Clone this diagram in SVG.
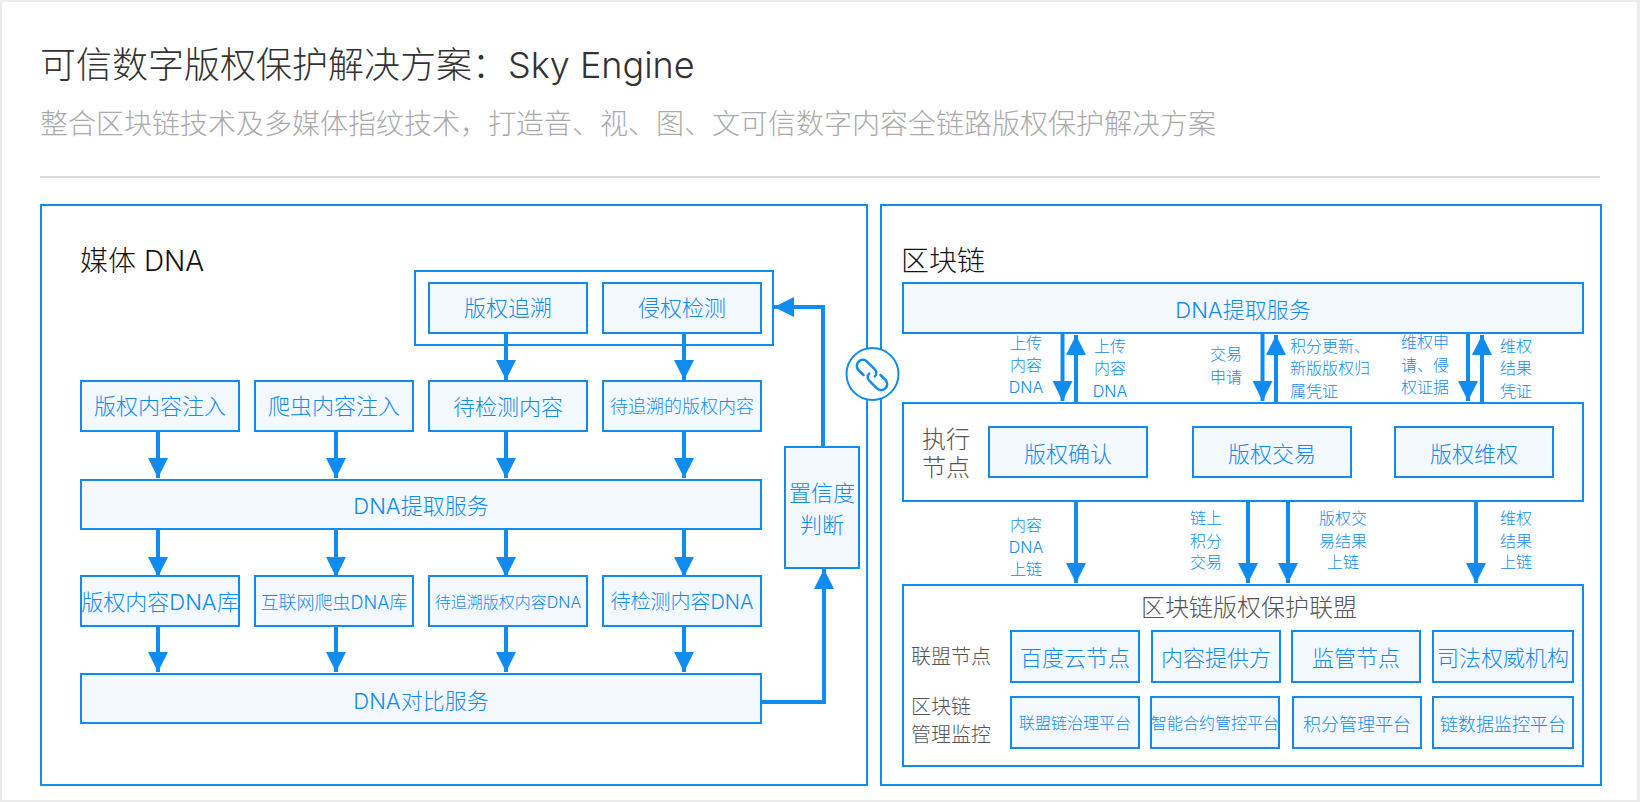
<svg xmlns="http://www.w3.org/2000/svg" width="1640" height="802" viewBox="0 0 1640 802">
<style>
text{font-family:"Inter","Noto Sans CJK SC",sans-serif;font-weight:300;dominant-baseline:central}
.m{text-anchor:middle}
.bl{fill:#108cf0}
.gr{fill:#555}
.f22{font-size:22px}.f20{font-size:20px}.f18{font-size:18px}.f16{font-size:16px}.f24{font-size:24px}
.box{fill:#f4f8ff;stroke:#108cf0;stroke-width:2}
.frame{fill:#fff;stroke:#108cf0;stroke-width:2}
.conn line,.conn path{fill:none;stroke:#108cf0;stroke-width:4}
</style>
<defs>
<marker id="a" viewBox="0 0 5 5" refX="5" refY="2.5" markerWidth="5" markerHeight="5" orient="auto"><path d="M0 0L5 2.5L0 5z" style="fill:#108cf0;stroke:none"/></marker>
</defs>
<rect width="1640" height="802" fill="#ececec"/>
<rect x="2" y="2" width="1635" height="798" fill="#fff"/>
<g id="header">
<text x="40" y="65" font-size="36" fill="#333">可信数字版权保护解决方案：Sky Engine</text>
<text x="40" y="124" font-size="28" fill="#aaa">整合区块链技术及多媒体指纹技术，打造音、视、图、文可信数字内容全链路版权保护解决方案</text>
<rect x="40" y="176" width="1560" height="2" fill="#ddd"/>
</g>
<g id="panel-media"><rect class="frame" x="41" y="205" width="826" height="580"/><text x="80" y="261" font-size="28" fill="#111">媒体 DNA</text></g>
<g id="panel-chain"><rect class="frame" x="881" y="205" width="720" height="580"/><text x="901" y="261" font-size="28" fill="#111">区块链</text></g>
<g id="source-group"><rect class="frame" x="415" y="271" width="358" height="74"/></g>
<g id="n1"><rect class="box" x="429" y="283" width="158" height="50"/><text class="m bl f22" x="508" y="308">版权追溯</text></g>
<g id="n2"><rect class="box" x="603" y="283" width="158" height="50"/><text class="m bl f22" x="682" y="308">侵权检测</text></g>
<g id="n3"><rect class="box" x="81" y="381" width="158" height="50"/><text class="m bl f22" x="160" y="406">版权内容注入</text></g>
<g id="n4"><rect class="box" x="255" y="381" width="158" height="50"/><text class="m bl f22" x="334" y="406">爬虫内容注入</text></g>
<g id="n5"><rect class="box" x="429" y="381" width="158" height="50"/><text class="m bl f22" x="508" y="407">待检测内容</text></g>
<g id="n6"><rect class="box" x="603" y="381" width="158" height="50"/><text class="m bl f18" x="682" y="406">待追溯的版权内容</text></g>
<g id="n7"><rect class="box" x="81" y="480" width="680" height="49"/><text class="m bl f22" x="421" y="506">DNA提取服务</text></g>
<g id="n8"><rect class="box" x="81" y="576" width="158" height="50"/><text class="m bl f22" x="160" y="602">版权内容DNA库</text></g>
<g id="n9"><rect class="box" x="255" y="576" width="158" height="50"/><text class="m bl f18" x="334" y="602">互联网爬虫DNA库</text></g>
<g id="n10"><rect class="box" x="429" y="576" width="158" height="50"/><text class="m bl f16" x="508" y="602">待追溯版权内容DNA</text></g>
<g id="n11"><rect class="box" x="603" y="576" width="158" height="50"/><text class="m bl f20" x="682" y="602">待检测内容DNA</text></g>
<g id="n12"><rect class="box" x="81" y="674" width="680" height="49"/><text class="m bl f22" x="421" y="701">DNA对比服务</text></g>
<g id="n13"><rect class="box" x="785" y="447" width="74" height="121"/><text class="m bl f22" x="822" y="493">置信度</text><text class="m bl f22" x="822" y="525">判断</text></g>
<g id="n14"><rect class="box" x="903" y="283" width="680" height="50"/><text class="m bl f22" x="1243" y="310">DNA提取服务</text></g>
<g id="exec"><rect class="frame" x="903" y="403" width="680" height="98"/><text class="gr f24" x="922" y="439">执行</text><text class="gr f24" x="922" y="467">节点</text></g>
<g id="n15"><rect class="box" x="989" y="427" width="158" height="50"/><text class="m bl f22" x="1068" y="454">版权确认</text></g>
<g id="n16"><rect class="box" x="1193" y="427" width="158" height="50"/><text class="m bl f22" x="1272" y="454">版权交易</text></g>
<g id="n17"><rect class="box" x="1395" y="427" width="158" height="50"/><text class="m bl f22" x="1474" y="454">版权维权</text></g>
<g id="alliance"><rect class="frame" x="903" y="585" width="680" height="181"/><text class="m gr f24" x="1249" y="607">区块链版权保护联盟</text><text class="gr f20" x="911" y="657">联盟节点</text><text class="gr f20" x="911" y="707">区块链</text><text class="gr f20" x="911" y="735">管理监控</text></g>
<g id="n18"><rect class="box" x="1011" y="631" width="128" height="51"/><text class="m bl f22" x="1075" y="658">百度云节点</text></g>
<g id="n19"><rect class="box" x="1152" y="631" width="128" height="51"/><text class="m bl f22" x="1216" y="658">内容提供方</text></g>
<g id="n20"><rect class="box" x="1292" y="631" width="128" height="51"/><text class="m bl f22" x="1356" y="658">监管节点</text></g>
<g id="n21"><rect class="box" x="1433" y="631" width="140" height="51"/><text class="m bl f22" x="1503" y="658">司法权威机构</text></g>
<g id="n22"><rect class="box" x="1011" y="697" width="128" height="51"/><text class="m bl f16" x="1075" y="723">联盟链治理平台</text></g>
<g id="n23"><rect class="box" x="1151" y="697" width="128" height="51"/><text class="m bl f16" x="1215" y="723">智能合约管控平台</text></g>
<g id="n24"><rect class="box" x="1293" y="697" width="128" height="51"/><text class="m bl f18" x="1357" y="724">积分管理平台</text></g>
<g id="n25"><rect class="box" x="1433" y="697" width="140" height="51"/><text class="m bl f18" x="1503" y="724">链数据监控平台</text></g>
<g id="connectors" class="conn">
<line x1="506" y1="333" x2="506" y2="380" marker-end="url(#a)"/><line x1="684" y1="333" x2="684" y2="380" marker-end="url(#a)"/>
<line x1="158" y1="431" x2="158" y2="478" marker-end="url(#a)"/><line x1="336" y1="431" x2="336" y2="478" marker-end="url(#a)"/><line x1="506" y1="431" x2="506" y2="478" marker-end="url(#a)"/><line x1="684" y1="431" x2="684" y2="478" marker-end="url(#a)"/>
<line x1="158" y1="529" x2="158" y2="577" marker-end="url(#a)"/><line x1="336" y1="529" x2="336" y2="577" marker-end="url(#a)"/><line x1="506" y1="529" x2="506" y2="577" marker-end="url(#a)"/><line x1="684" y1="529" x2="684" y2="577" marker-end="url(#a)"/>
<line x1="158" y1="626" x2="158" y2="672" marker-end="url(#a)"/><line x1="336" y1="626" x2="336" y2="672" marker-end="url(#a)"/><line x1="506" y1="626" x2="506" y2="672" marker-end="url(#a)"/><line x1="684" y1="626" x2="684" y2="672" marker-end="url(#a)"/>
<path d="M761 702H824V569" marker-end="url(#a)"/>
<path d="M823 446V307H774" marker-end="url(#a)"/>
<line x1="1062.500" y1="333" x2="1062.500" y2="401" marker-end="url(#a)"/><line x1="1076" y1="402" x2="1076" y2="335" marker-end="url(#a)"/>
<line x1="1262.500" y1="333" x2="1262.500" y2="401" marker-end="url(#a)"/><line x1="1276" y1="402" x2="1276" y2="335" marker-end="url(#a)"/>
<line x1="1468" y1="333" x2="1468" y2="401" marker-end="url(#a)"/><line x1="1482" y1="402" x2="1482" y2="335" marker-end="url(#a)"/>
<line x1="1076" y1="501" x2="1076" y2="583" marker-end="url(#a)"/><line x1="1248" y1="501" x2="1248" y2="583" marker-end="url(#a)"/><line x1="1288" y1="501" x2="1288" y2="583" marker-end="url(#a)"/><line x1="1476" y1="501" x2="1476" y2="583" marker-end="url(#a)"/>
</g>
<g id="labels">
<text class="m bl f16" x="1026" y="343">上传</text><text class="m bl f16" x="1026" y="365">内容</text><text class="m bl f16" x="1026" y="387">DNA</text>
<text class="m bl f16" x="1110" y="346">上传</text><text class="m bl f16" x="1110" y="368">内容</text><text class="m bl f16" x="1110" y="391">DNA</text>
<text class="m bl f16" x="1226" y="354">交易</text><text class="m bl f16" x="1226" y="377">申请</text>
<text class="bl f16" x="1290" y="346">积分更新、</text><text class="bl f16" x="1290" y="368">新版版权归</text><text class="bl f16" x="1290" y="391">属凭证</text>
<text class="bl f16" x="1401" y="342">维权申</text><text class="bl f16" x="1401" y="365">请、侵</text><text class="bl f16" x="1401" y="387">权证据</text>
<text class="m bl f16" x="1516" y="346">维权</text><text class="m bl f16" x="1516" y="368">结果</text><text class="m bl f16" x="1516" y="391">凭证</text>
<text class="m bl f16" x="1026" y="525">内容</text><text class="m bl f16" x="1026" y="547">DNA</text><text class="m bl f16" x="1026" y="569">上链</text>
<text class="m bl f16" x="1206" y="518">链上</text><text class="m bl f16" x="1206" y="541">积分</text><text class="m bl f16" x="1206" y="562">交易</text>
<text class="m bl f16" x="1343" y="518">版权交</text><text class="m bl f16" x="1343" y="541">易结果</text><text class="m bl f16" x="1343" y="562">上链</text>
<text class="m bl f16" x="1516" y="518">维权</text><text class="m bl f16" x="1516" y="541">结果</text><text class="m bl f16" x="1516" y="562">上链</text>
</g>
<g id="link">
<circle cx="872.500" cy="374" r="26" fill="#fff" stroke="#108cf0" stroke-width="2"/>
<g fill="none" stroke="#108cf0" stroke-width="2.500" stroke-linecap="round" transform="translate(872 375) rotate(45)">
<path d="M3 -1A5 5 0 0 0 -2 -6H-13A6 6 0 0 0 -13 6H-6"/>
<path d="M-3 1A5 5 0 0 0 2 6H13A6 6 0 0 0 13 -6H6"/>
</g>
</g>
</svg>
